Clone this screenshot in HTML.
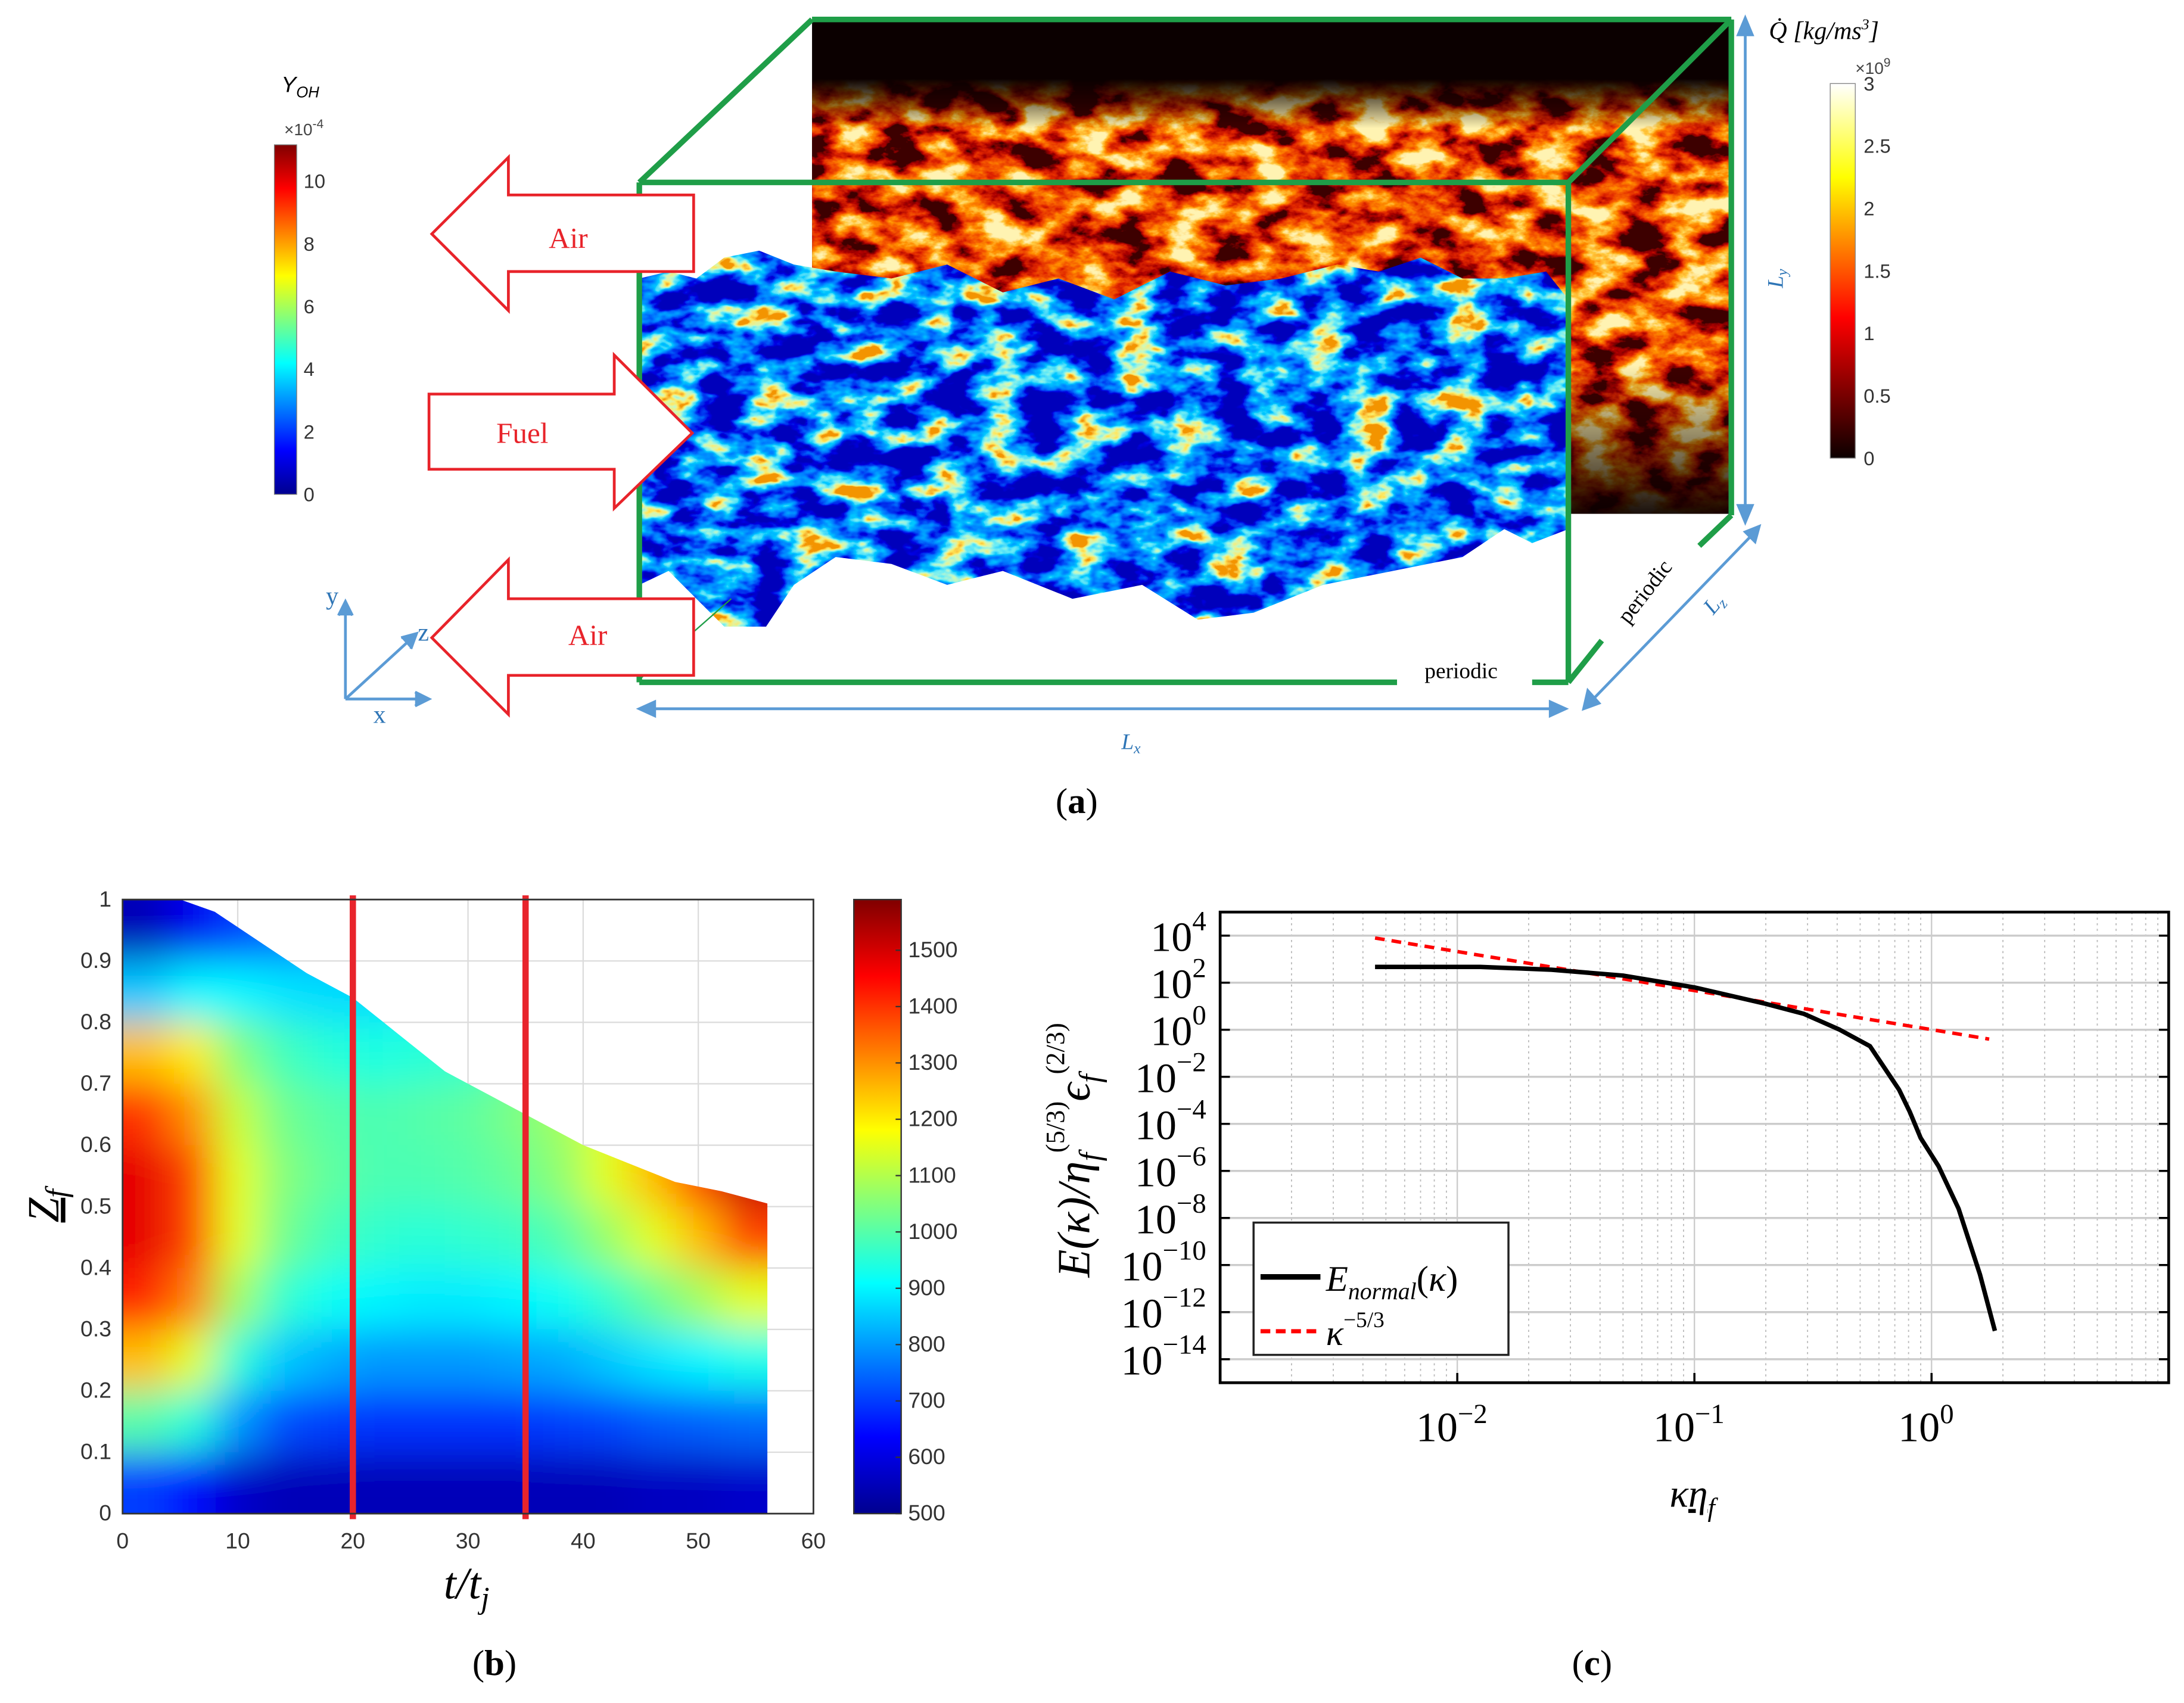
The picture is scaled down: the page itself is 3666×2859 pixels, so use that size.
<!DOCTYPE html>
<html><head><meta charset="utf-8">
<style>
html,body{margin:0;padding:0;background:#fff;}
svg{display:block;}
.serif{font-family:"Liberation Serif",serif;}
.sans{font-family:"Liberation Sans",sans-serif;}
</style></head>
<body>
<svg id="fig" xmlns="http://www.w3.org/2000/svg" width="3666" height="2859" viewBox="0 0 1568 1223" preserveAspectRatio="none">
<defs>
  <linearGradient id="jetg" x1="0" y1="1" x2="0" y2="0">
    <stop offset="0" stop-color="#00008f"/><stop offset="0.125" stop-color="#0000ff"/>
    <stop offset="0.375" stop-color="#00ffff"/><stop offset="0.625" stop-color="#ffff00"/>
    <stop offset="0.875" stop-color="#ff0000"/><stop offset="1" stop-color="#800000"/>
  </linearGradient>
  <linearGradient id="hotg" x1="0" y1="1" x2="0" y2="0">
    <stop offset="0" stop-color="#0b0000"/><stop offset="0.375" stop-color="#ff0000"/>
    <stop offset="0.75" stop-color="#ffff00"/><stop offset="1" stop-color="#ffffff"/>
  </linearGradient>
  <filter id="fireF" filterUnits="userSpaceOnUse" x="583" y="14" width="660" height="355">
    <feTurbulence type="fractalNoise" baseFrequency="0.03 0.05" numOctaves="5" seed="7"/>
    <feColorMatrix type="matrix" values="1 0 0 0 0 1 0 0 0 0 1 0 0 0 0 0 0 0 0 1"/>
    <feComponentTransfer><feFuncR type="linear" slope="2.6" intercept="-0.85"/><feFuncG type="linear" slope="2.6" intercept="-0.85"/><feFuncB type="linear" slope="2.6" intercept="-0.85"/></feComponentTransfer>
    <feComponentTransfer>
      <feFuncR type="table" tableValues="0.05 0.4 0.75 0.92 1 1 1"/>
      <feFuncG type="table" tableValues="0 0 0.02 0.1 0.28 0.6 0.9"/>
      <feFuncB type="table" tableValues="0 0 0 0 0 0.05 0.45"/>
    </feComponentTransfer>
  </filter>
  <linearGradient id="fireMaskG" x1="0" y1="0" x2="0" y2="1">
    <stop offset="0" stop-color="#000"/><stop offset="0.12" stop-color="#000"/>
    <stop offset="0.22" stop-color="#fff"/><stop offset="0.7" stop-color="#fff"/>
    <stop offset="0.92" stop-color="#555"/><stop offset="1" stop-color="#111"/>
  </linearGradient>
  <mask id="fireMask" maskUnits="userSpaceOnUse" x="583" y="14" width="660" height="355">
    <rect x="583" y="14" width="660" height="355" fill="url(#fireMaskG)"/>
  </mask>
  <filter id="blueF" filterUnits="userSpaceOnUse" x="459" y="170" width="667" height="290">
    <feTurbulence type="fractalNoise" baseFrequency="0.03 0.05" numOctaves="4" seed="11"/>
    <feColorMatrix type="matrix" values="1 0 0 0 0 1 0 0 0 0 1 0 0 0 0 0 0 0 0 1"/>
    <feComponentTransfer><feFuncR type="linear" slope="2.4" intercept="-0.85"/><feFuncG type="linear" slope="2.4" intercept="-0.85"/><feFuncB type="linear" slope="2.4" intercept="-0.85"/></feComponentTransfer>
    <feComponentTransfer>
      <feFuncR type="table" tableValues="0 0 0 0 0 0 0.15 0.6 1 0.9"/>
      <feFuncG type="table" tableValues="0 0 0.05 0.2 0.35 0.6 0.85 0.95 0.8 0.3"/>
      <feFuncB type="table" tableValues="0.5 0.75 0.9 1 1 1 0.9 0.5 0.1 0"/>
    </feComponentTransfer>
  </filter>
  <clipPath id="blueClip">
    <path d="M459,200 L480,195 L500,200 L520,185 L545,180 L570,190 L600,195 L640,200 L680,190 L720,210 L760,200 L800,215 L840,195 L880,205 L920,200 L960,190 L990,195 L1020,185 L1050,200 L1080,200 L1110,195 L1126,215 L1126,380 L1100,390 L1080,380 L1050,400 L1000,410 L950,420 L900,440 L860,445 L820,420 L770,430 L720,410 L680,420 L640,405 L600,400 L570,420 L550,450 L520,450 L500,430 L480,410 L459,420 Z"/>
  </clipPath>
  <filter id="blurF" filterUnits="userSpaceOnUse" x="60" y="600" width="560" height="520"><feGaussianBlur stdDeviation="14"/></filter>
  <clipPath id="plotbClip"><path id="plotbClipPath"/></clipPath>
</defs>

<!-- ================= PANEL A ================= -->
<g id="panel-a">
  <rect x="583" y="14" width="660" height="355" fill="#0b0000"/>
  <rect x="583" y="14" width="660" height="355" filter="url(#fireF)" mask="url(#fireMask)"/>
  <rect x="459" y="369" width="667" height="121" fill="#fff"/>
  <rect x="459" y="131" width="124" height="240" fill="#fff"/>
  <g clip-path="url(#blueClip)">
    <rect x="459" y="170" width="667" height="290" filter="url(#blueF)"/>
  </g>
  <g stroke="#1f9e48" stroke-width="4" fill="none">
    <line x1="583" y1="14" x2="1243" y2="14"/>
    <line x1="459" y1="131" x2="583" y2="14"/>
    <line x1="1126" y1="131" x2="1243" y2="14"/>
    <line x1="1243" y1="14" x2="1243" y2="370"/>
    <line x1="1243" y1="370" x2="1220" y2="392"/>
    <line x1="1150" y1="460" x2="1126" y2="490"/>
    <line x1="459" y1="131" x2="1126" y2="131"/>
    <line x1="459" y1="131" x2="459" y2="490"/>
    <line x1="1126" y1="131" x2="1126" y2="490"/>
    <line x1="459" y1="490" x2="1003" y2="490"/>
    <line x1="1100" y1="490" x2="1126" y2="490"/>
  </g>
  <line x1="459" y1="488" x2="525" y2="430" stroke="#1f9e48" stroke-width="1"/>
  <text class="serif" x="1049" y="487" font-size="16" text-anchor="middle">periodic</text>
  <text class="serif" x="1185" y="428" font-size="16" text-anchor="middle" transform="rotate(-52 1185 428)">periodic</text>

  <g fill="#fff" stroke="#e8232a" stroke-width="2">
    <path d="M310,168 L365,113 L365,140 L498,140 L498,195 L365,195 L365,223 Z"/>
    <path d="M497,311 L441,255 L441,283 L308,283 L308,337 L441,337 L441,365 Z"/>
    <path d="M310,458 L365,402 L365,430 L498,430 L498,485 L365,485 L365,513 Z"/>
  </g>
  <text class="serif" x="408" y="178" font-size="21" fill="#e8232a" text-anchor="middle">Air</text>
  <text class="serif" x="375" y="318" font-size="21" fill="#e8232a" text-anchor="middle">Fuel</text>
  <text class="serif" x="422" y="463" font-size="21" fill="#e8232a" text-anchor="middle">Air</text>

  <g stroke="#5b9bd5" stroke-width="2" fill="none">
    <line x1="248" y1="502" x2="248" y2="436"/><path d="M243,442 L248,432 L253,442" fill="#5b9bd5"/>
    <line x1="248" y1="502" x2="304" y2="502"/><path d="M298,497 L308,502 L298,507" fill="#5b9bd5"/>
    <line x1="248" y1="502" x2="296" y2="458"/><path d="M288,458 L299,455 L295,466" fill="#5b9bd5"/>
  </g>
  <text class="serif" x="234" y="434" font-size="18" fill="#2e75b6">y</text>
  <text class="serif" x="268" y="519" font-size="18" fill="#2e75b6">x</text>
  <text class="serif" x="300" y="460" font-size="18" fill="#2e75b6">z</text>

  <g stroke="#5b9bd5" stroke-width="2" fill="#5b9bd5">
    <line x1="463" y1="509" x2="1120" y2="509"/><path d="M470,504 L459,509 L470,514 Z"/><path d="M1113,504 L1124,509 L1113,514 Z"/>
    <line x1="1253" y1="18" x2="1253" y2="370"/><path d="M1248,25 L1253,13 L1258,25 Z"/><path d="M1248,363 L1253,375 L1258,363 Z"/>
    <line x1="1259" y1="383" x2="1141" y2="505"/><path d="M1253,382 L1263,378 L1260,389 Z"/><path d="M1140,496 L1137,509 L1148,505 Z"/>
  </g>
  <text class="serif" x="812" y="538" font-size="16" font-style="italic" fill="#2e75b6" text-anchor="middle">L<tspan font-size="11" dy="3">x</tspan></text>
  <text class="serif" x="1280" y="200" font-size="16" font-style="italic" fill="#2e75b6" transform="rotate(-90 1280 200)" text-anchor="middle">L<tspan font-size="11" dy="3">y</tspan></text>
  <text class="serif" x="1230" y="442" font-size="16" font-style="italic" fill="#2e75b6" transform="rotate(-50 1230 442)">L<tspan font-size="11" dy="3">z</tspan></text>

  <rect x="197" y="104" width="16" height="251" fill="url(#jetg)" stroke="#777" stroke-width="0.6"/>
  <text class="sans" x="202" y="66" font-size="16" font-style="italic">Y<tspan font-size="11" dy="4">OH</tspan></text>
  <text class="sans" x="204" y="97" font-size="12" fill="#444">×10<tspan font-size="9" dy="-5">-4</tspan></text>
  <g id="yohTicks" class="sans" font-size="14" fill="#333"></g>

  <rect x="1314" y="60" width="18" height="269" fill="url(#hotg)" stroke="#888" stroke-width="0.6"/>
  <text class="serif" x="1270" y="28" font-size="18" font-style="italic">Q̇ [kg/ms<tspan font-size="11" dy="-7">3</tspan><tspan dy="7">]</tspan></text>
  <text class="sans" x="1332" y="53" font-size="12" fill="#444">×10<tspan font-size="9" dy="-5">9</tspan></text>
  <g id="qTicks" class="sans" font-size="14" fill="#333"></g>

  <text class="serif" x="773" y="584" font-size="26" text-anchor="middle">(<tspan font-weight="bold">a</tspan>)</text>
</g>

<!-- ================= PANEL B ================= -->
<g id="panel-b">
  <g id="bGrid"></g>
  <g id="bCellsBase" clip-path="url(#plotbClip)"></g>
  <g clip-path="url(#plotbClip)"><g id="bCellsBlur" filter="url(#blurF)"></g></g>
  <g id="bLines"></g>
  <rect x="88" y="646" width="496" height="441" fill="none" stroke="#333" stroke-width="1.2"/>
  <g id="bTicks" class="sans" font-size="16" fill="#333"></g>
  <rect x="613" y="646" width="34" height="441" fill="url(#jetg)" stroke="#333" stroke-width="1"/>
  <g id="cbTicks" class="sans" font-size="16" fill="#333"></g>
  <text class="serif" x="335" y="1148" font-size="32" font-style="italic" text-anchor="middle">t/t<tspan font-size="22" dy="7">j</tspan></text>
  <text class="serif" x="42" y="866" font-size="32" font-style="italic" text-anchor="middle" transform="rotate(-90 42 866)"><tspan text-decoration="underline">Z</tspan><tspan font-size="22" dy="6">f</tspan></text>
  <text class="serif" x="355" y="1203" font-size="26" text-anchor="middle">(<tspan font-weight="bold">b</tspan>)</text>
</g>

<!-- ================= PANEL C ================= -->
<g id="panel-c">
  <g id="cGrid"></g>
  <g id="cSeries"></g>
  <rect x="876" y="655" width="681" height="338" fill="none" stroke="#000" stroke-width="2"/>
  <g id="cTicks" class="serif" font-size="30" fill="#000"></g>
  <text class="serif" x="1215" y="1082" font-size="28" font-style="italic" text-anchor="middle">κ<tspan text-decoration="underline">η</tspan><tspan font-size="19" dy="7">f</tspan></text>
  <text class="serif" x="782" y="826" font-size="33" font-style="italic" text-anchor="middle" transform="rotate(-90 782 826)">E(κ)/η<tspan font-size="22" dy="8">f</tspan><tspan font-size="19" dy="-26" font-style="normal">(5/3)</tspan><tspan dy="18">ϵ</tspan><tspan font-size="22" dy="8">f</tspan><tspan font-size="19" dy="-26" font-style="normal">(2/3)</tspan></text>
  <g>
    <rect x="900" y="878" width="183" height="95" fill="#fff" stroke="#222" stroke-width="1.5"/>
    <line x1="905" y1="917" x2="948" y2="917" stroke="#000" stroke-width="4"/>
    <text class="serif" x="952" y="927" font-size="26" font-style="italic">E<tspan font-size="17" dy="6">normal</tspan><tspan dy="-6" font-style="normal">(</tspan>κ<tspan font-style="normal">)</tspan></text>
    <line x1="905" y1="956" x2="948" y2="956" stroke="#f00" stroke-width="3" stroke-dasharray="7 4"/>
    <text class="serif" x="952" y="966" font-size="26" font-style="italic">κ<tspan font-size="16" dy="-13" font-style="normal">−5/3</tspan></text>
  </g>
  <text class="serif" x="1143" y="1203" font-size="26" text-anchor="middle">(<tspan font-weight="bold">c</tspan>)</text>
</g>
</svg>

<script>
// ---------- Panel B data ----------
const bTimes = [2,6,10,14,18,22,26,30,34,38,42,46,50,54];
const bZ = [0.95,0.85,0.75,0.65,0.55,0.45,0.35,0.25,0.15,0.05];
const bTemp = [
 [560,620,700,750,800,820,860,900,950,1000,1080,1150,1300,1450],
 [850,900,900,880,870,870,900,930,980,1030,1100,1200,1350,1480],
 [1250,1200,1050,980,950,940,950,960,1000,1050,1120,1220,1370,1500],
 [1400,1300,1120,1030,1000,990,1000,1010,1040,1080,1150,1250,1380,1520],
 [1480,1380,1150,1050,1010,990,990,1000,1020,1060,1150,1250,1380,1520],
 [1480,1380,1150,1030,980,960,950,960,970,1000,1070,1150,1250,1380],
 [1420,1320,1080,960,920,900,890,890,900,920,960,1020,1080,1150],
 [1250,1150,950,850,820,800,800,800,810,820,850,880,900,930],
 [1000,950,800,720,700,690,690,690,690,700,710,730,740,750],
 [700,650,580,560,560,560,560,560,560,560,560,570,570,580]
];
const bBoundT = [0,5,8,12,16,20,24,28,32,35,40,44,48,52,56];
const bBoundZ = [1,1,0.98,0.93,0.88,0.84,0.78,0.72,0.68,0.65,0.6,0.57,0.54,0.525,0.505];
const bMarkers = [20,35];
const bXTicks = [0,10,20,30,40,50,60];
const bYTicks = [0,0.1,0.2,0.3,0.4,0.5,0.6,0.7,0.8,0.9,1];
const cbTicks = [500,600,700,800,900,1000,1100,1200,1300,1400,1500];
const cbMin = 500, cbMax = 1590;

// ---------- Panel C data ----------
const cK = [0.0045,0.0125,0.025,0.05,0.1,0.2,0.29,0.41,0.55,0.73,0.81,0.9,1.07,1.3,1.6,1.85];
const cE = [468,468,355,200,63,12.6,4.7,1,0.2,2.8e-3,3.2e-4,2.5e-5,1.6e-6,2.5e-8,4e-11,1.6e-13];
const cRefK = [0.0045,1.75];
const cRefE = [7900,0.4];
const cXTickExp = [-2,-1,0];
const cYTickExp = [4,2,0,-2,-4,-6,-8,-10,-12,-14];

// ---------- Panel A tick data ----------
const yohTicks = [0,2,4,6,8,10];
const qTicks = [0,0.5,1,1.5,2,2.5,3];

const NS = "http://www.w3.org/2000/svg";
function mk(tag, attrs, parent){ const e=document.createElementNS(NS,tag); for(const k in attrs) e.setAttribute(k,attrs[k]); parent.appendChild(e); return e; }

const yohY = v => 355 - v*22.5;
const yg = document.getElementById('yohTicks');
yohTicks.forEach(v=>{ const t=mk('text',{x:218,y:yohY(v)+5},yg); t.textContent=v;
  
   });
const qY = v => 329 - v*(269/3);
const qg = document.getElementById('qTicks');
qTicks.forEach(v=>{ const t=mk('text',{x:1338,y:qY(v)+5},qg); t.textContent=v;
  
   });

// Panel B
const bx = t => 88 + t/60*496;
const by = z => 1087 - z*441;
function jet(v){ const c=x=>Math.max(0,Math.min(1,x)); v=c(v);
  return `rgb(${Math.round(255*c(1.5-Math.abs(4*v-3)))},${Math.round(255*c(1.5-Math.abs(4*v-2)))},${Math.round(255*c(1.5-Math.abs(4*v-1)))})`; }
let clipD = `M${bx(0)},${by(0)}`;
bBoundT.forEach((t,i)=>{ clipD += ` L${bx(t)},${by(bBoundZ[i])}`; });
clipD += ` L${bx(bBoundT[bBoundT.length-1])},${by(0)} Z`;
document.getElementById('plotbClipPath').setAttribute('d', clipD);
const gridG = document.getElementById('bGrid');
bXTicks.forEach(t=>{ const l=mk('line',{x1:bx(t),y1:646,x2:bx(t),y2:1087,stroke:'#dcdcdc','stroke-width':1},gridG);
    });
bYTicks.forEach(z=>{ const l=mk('line',{x1:88,y1:by(z),x2:584,y2:by(z),stroke:'#dcdcdc','stroke-width':1},gridG);
    });
['bCellsBase','bCellsBlur'].forEach(id=>{
  const g=document.getElementById(id);
  bZ.forEach((z,j)=>{ bTimes.forEach((t,i)=>{
    const x0=bx(t-2), x1=bx(t+2), y0=by(z+0.05), y1=by(z-0.05);
    const r=mk('rect',{x:x0-(i===0?30:0),y:y0-(j===0?30:0),width:x1-x0+0.6+(i===0?30:0)+(i===bTimes.length-1?30:0),height:y1-y0+0.6+(j===0?30:0)+(j===bZ.length-1?30:0),fill:jet((bTemp[j][i]-cbMin)/(cbMax-cbMin))},g);
    
    
  });});
});
const ml = document.getElementById('bLines');
bMarkers.forEach(t=>{ const l=mk('line',{x1:bx(t),y1:643,x2:bx(t),y2:1091,stroke:'#e8242c','stroke-width':4.5},ml);
    });
const bt = document.getElementById('bTicks');
bXTicks.forEach(t=>{ const e=mk('text',{x:bx(t),y:1112,'text-anchor':'middle'},bt); e.textContent=t;
    });
bYTicks.forEach(z=>{ const e=mk('text',{x:80,y:by(z)+5,'text-anchor':'end'},bt); e.textContent=z;
    });
const cbY = v => 1087 - (v-cbMin)/(cbMax-cbMin)*441;
const cbt = document.getElementById('cbTicks');
cbTicks.forEach(v=>{ mk('line',{x1:643,y1:cbY(v),x2:647,y2:cbY(v),stroke:'#333','stroke-width':1},cbt);
  const e=mk('text',{x:652,y:cbY(v)+5},cbt); e.textContent=v;
    });

// Panel C
const cx = k => 876 + (Math.log10(k)+3)/4*681;
const cy = e => 993 - (Math.log10(e)+15)/20*338;
const cg = document.getElementById('cGrid');
for(let d=-3; d<1; d++){ for(let m=2;m<=9;m++){ const x=cx(m*Math.pow(10,d));
  const l=mk('line',{x1:x,y1:655,x2:x,y2:993,stroke:'#bbb','stroke-width':0.8,'stroke-dasharray':'1.5 2.5'},cg);
    } }
cXTickExp.forEach(p=>{ const l=mk('line',{x1:cx(Math.pow(10,p)),y1:655,x2:cx(Math.pow(10,p)),y2:993,stroke:'#ccc','stroke-width':1},cg);
    });
cYTickExp.forEach(p=>{ const l=mk('line',{x1:876,y1:cy(Math.pow(10,p)),x2:1557,y2:cy(Math.pow(10,p)),stroke:'#ccc','stroke-width':1.5},cg);
    });
const cs = document.getElementById('cSeries');
const refLine = mk('polyline',{points:cRefK.map((k,i)=>`${cx(k)},${cy(cRefE[i])}`).join(' '),fill:'none',stroke:'#f00','stroke-width':2.5,'stroke-dasharray':'7 5'},cs);


const specLine = mk('polyline',{points:cK.map((k,i)=>`${cx(k)},${cy(cE[i])}`).join(' '),fill:'none',stroke:'#000','stroke-width':3.2,'stroke-linejoin':'round'},cs);


const ct = document.getElementById('cTicks');
cXTickExp.forEach(p=>{ const x=cx(Math.pow(10,p));
  mk('line',{x1:x,y1:993,x2:x,y2:986,stroke:'#000','stroke-width':1.5},ct);
  const e=mk('text',{x:x-4,y:1035,'text-anchor':'middle'},ct);
  e.innerHTML = '10<tspan font-size="20" dy="-13">'+(p<0?'−'+(-p):p)+'</tspan>';
    });
cYTickExp.forEach(p=>{ const y=cy(Math.pow(10,p));
  mk('line',{x1:876,y1:y,x2:883,y2:y,stroke:'#000','stroke-width':1.5},ct);
  mk('line',{x1:1557,y1:y,x2:1550,y2:y,stroke:'#000','stroke-width':1.5},ct);
  const e=mk('text',{x:866,y:y+11,'text-anchor':'end'},ct);
  e.innerHTML = '10<tspan font-size="20" dy="-15">'+(p<0?'−'+(-p):p)+'</tspan>';
    });
</script>
</body></html>
